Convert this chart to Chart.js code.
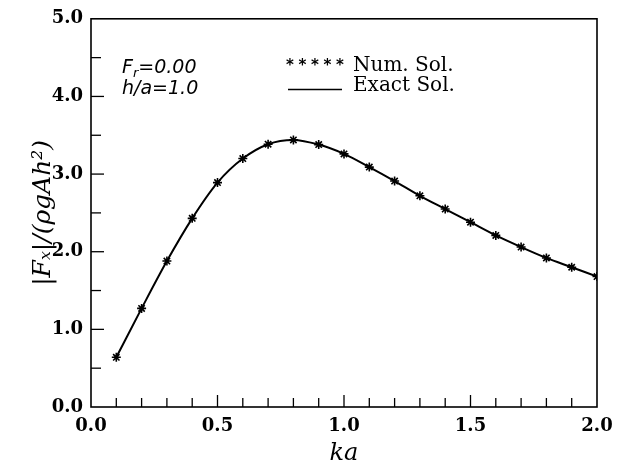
<!DOCTYPE html>
<html>
<head>
<meta charset="utf-8">
<script src="https://cdn.jsdelivr.net/npm/chart.js@4.4.0/dist/chart.umd.min.js"></script>
<style>
  html, body { margin: 0; padding: 0; background: #fff; }
  #wrap { width: 628px; height: 468px; }
</style>
</head>
<body>
<div id="wrap"><canvas id="plot_canvas"></canvas></div>
<script>
// ka values and force amplitude
const ka = [0.1, 0.2, 0.3, 0.4, 0.5, 0.6, 0.7, 0.8, 0.9, 1.0,
            1.1, 1.2, 1.3, 1.4, 1.5, 1.6, 1.7, 1.8, 1.9, 2.0];
const numSol = [0.64, 1.27, 1.88, 2.43, 2.89, 3.20, 3.385, 3.44, 3.38, 3.26,
                3.09, 2.91, 2.72, 2.55, 2.38, 2.21, 2.06, 1.92, 1.80, 1.68];
const exactSol = [0.64, 1.27, 1.88, 2.43, 2.89, 3.20, 3.385, 3.44, 3.38, 3.26,
                  3.09, 2.91, 2.72, 2.55, 2.38, 2.21, 2.06, 1.92, 1.80, 1.68];

const xTickValues = [0.0, 0.5, 1.0, 1.5, 2.0];
const xTickLabels = ['0.0', '0.5', '1.0', '1.5', '2.0'];
const yTickValues = [0, 1, 2, 3, 4, 5];
const yTickLabels = ['0.0', '1.0', '2.0', '3.0', '4.0', '5.0'];
const xMinorStep = 0.1;
const yMinorStep = 0.5;

const seriesNames = ['Num. Sol.', 'Exact Sol.'];
const annotLines = [['F', 'r', '=0.00'], ['h/a=1.0']];

const tickFont = {family: 'DejaVu Serif', size: 18, weight: 'bold'};

// inward ticks, frame, annotation, legend
const decor = {
    id: 'decor',
    afterDraw(chart) {
        const ctx = chart.ctx;
        const a = chart.chartArea;
        const xs = chart.scales.x, ys = chart.scales.y;
        ctx.save();
        ctx.strokeStyle = '#000';
        ctx.lineWidth = 1.6;
        ctx.strokeRect(a.left, a.top, a.right - a.left, a.bottom - a.top);

        ctx.lineWidth = 1.3;
        let n = Math.round((xs.max - xs.min) / xMinorStep);
        for (let i = 1; i < n; i++) {
            let v = xs.min + i * xMinorStep;
            let px = xs.getPixelForValue(v);
            let major = i % 5 === 0;
            ctx.beginPath();
            ctx.moveTo(px, a.bottom);
            ctx.lineTo(px, a.bottom - (major ? 12 : 9));
            ctx.stroke();
        }
        n = Math.round((ys.max - ys.min) / yMinorStep);
        for (let i = 1; i < n; i++) {
            let v = ys.min + i * yMinorStep;
            let py = ys.getPixelForValue(v);
            let major = i % 2 === 0;
            ctx.beginPath();
            ctx.moveTo(a.left, py);
            ctx.lineTo(a.left + (major ? 13 : 10), py);
            ctx.stroke();
        }

        // parameter text
        ctx.fillStyle = '#000';
        ctx.textBaseline = 'alphabetic';
        ctx.font = 'italic 19px "DejaVu Sans"';
        let x0 = a.left + 31;
        ctx.fillText(annotLines[0][0], x0, 73);
        let w = ctx.measureText(annotLines[0][0]).width;
        ctx.font = 'italic 13px "DejaVu Sans"';
        ctx.fillText(annotLines[0][1], x0 + w, 77);
        let w2 = ctx.measureText(annotLines[0][1]).width;
        ctx.font = 'italic 19px "DejaVu Sans"';
        ctx.fillText(annotLines[0][2], x0 + w + w2, 73);
        ctx.fillText(annotLines[1][0], x0, 94);

        // legend
        let lx = 288, lr = 342;
        ctx.font = 'bold 15px "DejaVu Sans"';
        for (let i = 0; i < 5; i++) {
            let sx = lx + 2 + i * (lr - lx - 4) / 4;
            ctx.textAlign = 'center';
            ctx.fillText('*', sx, 70);
        }
        ctx.textAlign = 'left';
        ctx.lineWidth = 1.5;
        ctx.beginPath();
        ctx.moveTo(lx, 89.5);
        ctx.lineTo(lr, 89.5);
        ctx.stroke();
        ctx.font = '20px "DejaVu Serif"';
        ctx.fillText(seriesNames[0], 353, 71);
        ctx.fillText(seriesNames[1], 353, 91);
        ctx.restore();
    }
};

const config = {
    type: 'line',
    data: {
        datasets: [
            {
                label: seriesNames[1],
                data: ka.map((k, i) => ({x: k, y: exactSol[i]})),
                borderColor: '#000',
                borderWidth: 2,
                pointRadius: 0,
                cubicInterpolationMode: 'monotone',
                fill: false
            },
            {
                label: seriesNames[0],
                data: ka.map((k, i) => ({x: k, y: numSol[i]})),
                showLine: false,
                pointStyle: 'star',
                pointRadius: 4.5,
                pointBorderWidth: 1.6,
                pointBorderColor: '#000',
                pointBackgroundColor: '#000'
            }
        ]
    },
    options: {
        responsive: true,
        maintainAspectRatio: false,
        animation: false,
        layout: {padding: {top: 16, right: 31, left: 0, bottom: 0}},
        plugins: {
            legend: {display: false},
            tooltip: {enabled: false}
        },
        scales: {
            x: {
                type: 'linear',
                min: 0, max: 2,
                afterBuildTicks: s => { s.ticks = xTickValues.map(v => ({value: v})); },
                afterFit: s => { s.height = 61; },
                grid: {drawOnChartArea: false, drawTicks: false},
                border: {display: false},
                ticks: {
                    padding: 9,
                    color: '#000',
                    font: tickFont,
                    maxRotation: 0,
                    callback: (v, i) => xTickLabels[i]
                },
                title: {
                    display: true,
                    text: 'ka',
                    color: '#000',
                    font: {family: 'DejaVu Serif', size: 24, style: 'italic'},
                    padding: {top: 0, bottom: 0}
                }
            },
            y: {
                type: 'linear',
                min: 0, max: 5,
                afterBuildTicks: s => { s.ticks = yTickValues.map(v => ({value: v})); },
                afterFit: s => { s.width = 91; },
                grid: {drawOnChartArea: false, drawTicks: false},
                border: {display: false},
                ticks: {
                    padding: 8,
                    color: '#000',
                    font: tickFont,
                    callback: (v, i) => yTickLabels[i]
                },
                title: {
                    display: true,
                    text: '|Fₓ|/(ρgAh²)',
                    color: '#000',
                    font: {family: 'DejaVu Serif', size: 25, style: 'italic'},
                    padding: {top: 28, bottom: 0}
                }
            }
        }
    },
    plugins: [decor]
};

new Chart(document.getElementById('plot_canvas'), config);
</script>
</body>
</html>
